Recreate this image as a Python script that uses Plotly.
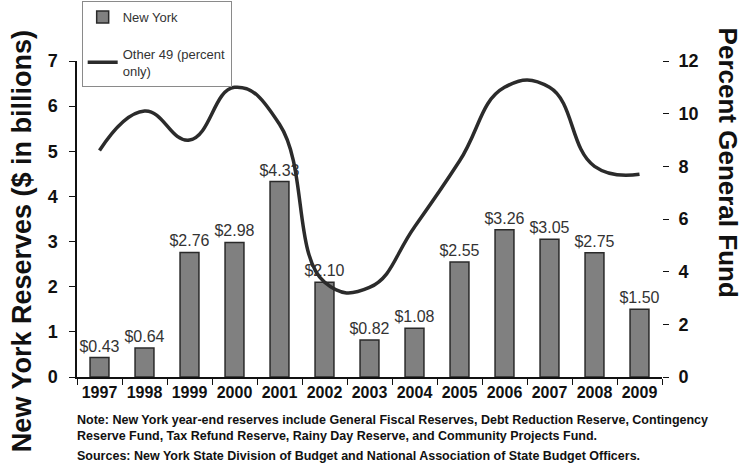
import plotly.graph_objects as go

# ── Data ────────────────────────────────────────────────────────────────
years = ["1997", "1998", "1999", "2000", "2001", "2002", "2003",
         "2004", "2005", "2006", "2007", "2008", "2009"]
ny_reserves = [0.43, 0.64, 2.76, 2.98, 4.33, 2.10, 0.82,
               1.08, 2.55, 3.26, 3.05, 2.75, 1.50]
other49_pct = [8.6, 10.1, 9.0, 11.0, 9.6, 3.6, 3.4,
               5.7, 8.2, 11.0, 11.0, 8.0, 7.7]
left_ticks = [0, 1, 2, 3, 4, 5, 6, 7]
right_ticks = [0, 2, 4, 6, 8, 10, 12]

FONT = "Arial, Liberation Sans, sans-serif"

fig = go.Figure()

fig.add_trace(
    go.Bar(
        x=years,
        y=ny_reserves,
        name="New York",
        legendgroup="a",
        width=0.42,
        marker=dict(color="#808080", line=dict(color="#2a2a2a", width=1.5)),
        text=[f"${v:.2f}" for v in ny_reserves],
        textposition="outside",
        constraintext="none",
        cliponaxis=False,
        textfont=dict(family=FONT, size=16, color="#333333"),
    )
)

fig.add_trace(
    go.Scatter(
        x=years,
        y=other49_pct,
        name="Other 49 (percent<br>only)",
        legendgroup="b",
        yaxis="y2",
        mode="lines",
        line=dict(color="#2b2b2b", width=3.5, shape="spline", smoothing=1.3),
    )
)

# ── Notes & axis titles ─────────────────────────────────────────────────
notes = [
    ("Note: New York year-end reserves include General Fiscal Reserves, Debt Reduction Reserve, Contingency", -0.136),
    ("Reserve Fund, Tax Refund Reserve, Rainy Day Reserve, and Community Projects Fund.", -0.187),
    ("Sources: New York State Division of Budget and National Association of State Budget Officers.", -0.250),
]
annotations = [
    dict(text=t, x=-0.004, y=y, xref="paper", yref="paper", xanchor="left",
         yanchor="middle", showarrow=False,
         font=dict(family=FONT, size=12.5, color="#111111", weight="bold"))
    for t, y in notes
]
annotations.append(
    dict(text="New York Reserves ($ in billions)", x=-0.094, y=0.43,
         xref="paper", yref="paper", textangle=-90, showarrow=False,
         xanchor="center", yanchor="middle",
         font=dict(family=FONT, size=27, color="#111111", weight="bold"))
)
annotations.append(
    dict(text="Percent General Fund", x=1.112, y=0.68,
         xref="paper", yref="paper", textangle=90, showarrow=False,
         xanchor="center", yanchor="middle",
         font=dict(family=FONT, size=26, color="#111111", weight="bold"))
)

fig.update_layout(
    width=743,
    height=463,
    paper_bgcolor="white",
    plot_bgcolor="white",
    font=dict(family=FONT, color="#111111"),
    margin=dict(l=77, r=81, t=61, b=86, autoexpand=False),
    bargap=0.58,
    showlegend=True,
    legend=dict(
        x=0.008, y=1.19, xanchor="left", yanchor="top",
        bgcolor="white", bordercolor="#8a8a8a", borderwidth=1,
        font=dict(family=FONT, size=13, color="#333333"),
        itemwidth=30,
        tracegroupgap=17,
        traceorder="grouped",
    ),
    xaxis=dict(
        range=[-0.5, 12.5],
        showline=True, linecolor="#111111", linewidth=1.5,
        ticks="outside", ticklen=6, tickcolor="#111111",
        tickson="boundaries",
        showgrid=False,
        tickfont=dict(family=FONT, size=16, color="#111111", weight="bold"),
    ),
    yaxis=dict(
        range=[0, 7],
        tickvals=left_ticks,
        showline=True, linecolor="#111111", linewidth=1.5,
        ticks="outside", ticklen=6, tickcolor="#111111",
        ticklabelstandoff=8,
        showgrid=False, zeroline=False,
        tickfont=dict(family=FONT, size=18, color="#111111", weight="bold"),
    ),
    yaxis2=dict(
        range=[0, 12],
        tickvals=right_ticks,
        overlaying="y",
        side="right",
        showline=False,
        ticks="outside", ticklen=6, tickcolor="#111111",
        ticklabelstandoff=6,
        showgrid=False, zeroline=False,
        tickfont=dict(family=FONT, size=18, color="#111111", weight="bold"),
    ),
    annotations=annotations,
)

# page body has a default 8px margin; drop it so the figure sits at (0, 0)
fig.write_html(
    "out.html",
    config={"displayModeBar": False},
    post_script="document.body.style.margin = '0';",
)
